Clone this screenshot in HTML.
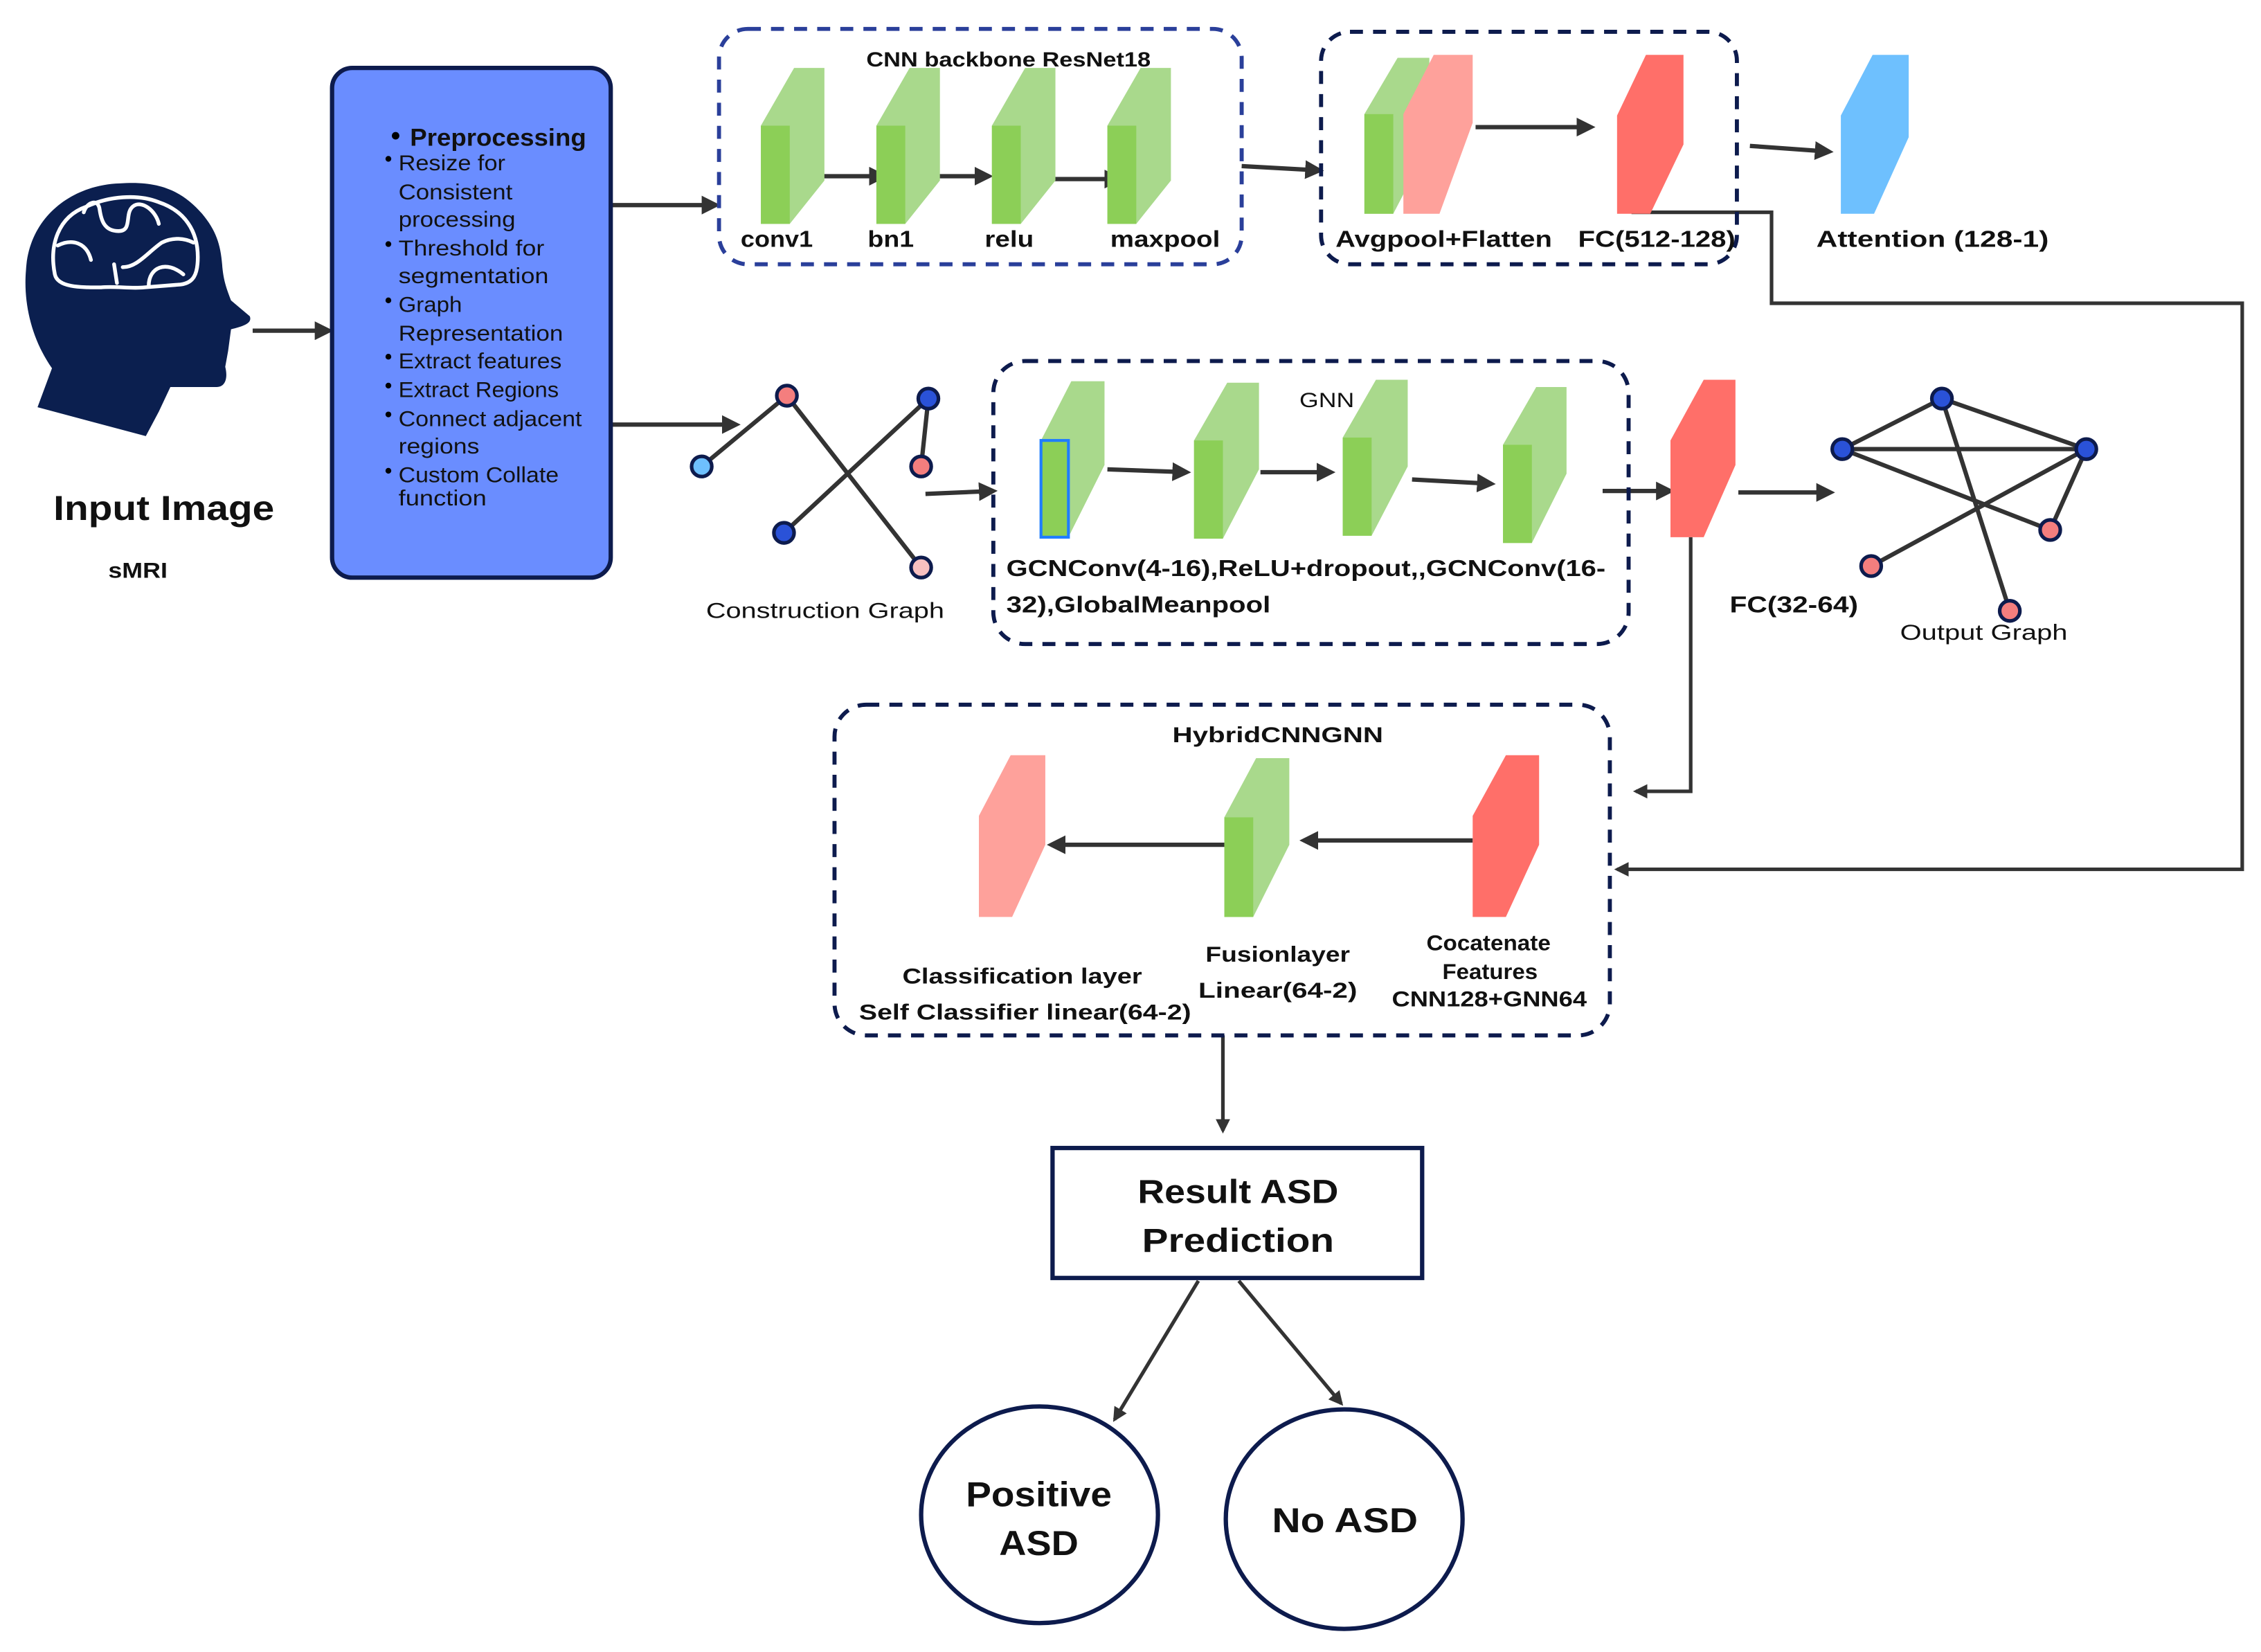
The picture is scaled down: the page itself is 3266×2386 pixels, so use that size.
<!DOCTYPE html>
<html><head><meta charset="utf-8">
<style>
html,body{margin:0;padding:0;background:#fff;width:3266px;height:2386px;overflow:hidden}
svg{display:block}
text{font-family:"Liberation Sans",sans-serif;fill:#111}
.b{font-weight:bold}
</style></head><body>
<svg width="3266" height="2386" viewBox="0 0 1566 1144" xmlns="http://www.w3.org/2000/svg">
<defs>
<marker id="ah" markerWidth="10" markerHeight="10" refX="8" refY="5" orient="auto" markerUnits="userSpaceOnUse">
<path d="M0,0 L10,5 L0,10 Z" fill="#333"/></marker>
<marker id="as" markerWidth="13" markerHeight="13" refX="10" refY="6.5" orient="auto" markerUnits="userSpaceOnUse">
<path d="M0,0 L13,6.5 L0,13 Z" fill="#333"/></marker>
</defs>
<g stroke="#333" stroke-width="3" fill="none">
<!-- arrows -->
<line x1="175" y1="229" x2="228" y2="229" marker-end="url(#as)"/>
<line x1="423" y1="142" x2="496" y2="142" marker-end="url(#as)"/>
<line x1="423" y1="294" x2="510" y2="294" marker-end="url(#as)"/>
<line x1="566" y1="122" x2="612" y2="122" marker-end="url(#as)"/>
<line x1="638" y1="122" x2="685" y2="122" marker-end="url(#as)"/>
<line x1="728" y1="124" x2="775" y2="124" marker-end="url(#as)"/>
<line x1="860" y1="115" x2="914" y2="118" marker-end="url(#as)"/>
<line x1="1022" y1="88" x2="1102" y2="88" marker-end="url(#as)"/>
<line x1="1212" y1="101" x2="1267" y2="105" marker-end="url(#as)"/>
<polyline points="1130,147 1227,147 1227,210 1553,210 1553,602 1120,602" stroke-width="2.5" marker-end="url(#ah)"/>
<line x1="641" y1="342" x2="688" y2="340" marker-end="url(#as)"/>
<line x1="767" y1="325" x2="822" y2="327" marker-end="url(#as)"/>
<line x1="873" y1="327" x2="922" y2="327" marker-end="url(#as)"/>
<line x1="978" y1="332" x2="1033" y2="335" marker-end="url(#as)"/>
<line x1="1110" y1="340" x2="1157" y2="340" marker-end="url(#as)"/>
<line x1="1204" y1="341" x2="1268" y2="341" marker-end="url(#as)"/>
<polyline points="1171,372 1171,548 1133,548" stroke-width="2.5" marker-end="url(#ah)"/>
<line x1="848" y1="585" x2="728" y2="585" marker-end="url(#as)"/>
<line x1="1020" y1="582" x2="903" y2="582" marker-end="url(#as)"/>
<line x1="847" y1="717" x2="847" y2="783" stroke-width="2.5" marker-end="url(#ah)"/>
<line x1="830" y1="887" x2="772" y2="983" stroke-width="2.5" marker-end="url(#ah)"/>
<line x1="858" y1="887" x2="929" y2="972" stroke-width="2.5" marker-end="url(#ah)"/>
<!-- construction graph edges -->
<line x1="486" y1="323" x2="545" y2="274"/>
<line x1="545" y1="274" x2="638" y2="393"/>
<line x1="543" y1="369" x2="643" y2="276"/>
<line x1="643" y1="276" x2="638" y2="323"/>
<!-- output graph edges -->
<line x1="1276" y1="311" x2="1345" y2="276"/>
<line x1="1345" y1="276" x2="1445" y2="311"/>
<line x1="1276" y1="311" x2="1445" y2="311"/>
<line x1="1276" y1="311" x2="1420" y2="367"/>
<line x1="1445" y1="311" x2="1296" y2="392"/>
<line x1="1445" y1="311" x2="1420" y2="367"/>
<line x1="1345" y1="276" x2="1392" y2="423"/>
</g>
<!-- dashed boxes -->
<g fill="none" stroke-width="2.8" stroke-dasharray="9,7">
<rect x="498" y="20" width="362" height="163" rx="20" stroke="#2a3f9a"/>
<rect x="915" y="22" width="288" height="161" rx="20" stroke="#0d1b4d"/>
<rect x="688" y="250" width="440" height="196" rx="22" stroke="#0d1b4d"/>
<rect x="578" y="488" width="537" height="229" rx="22" stroke="#0d1b4d"/>
</g>
<!-- head -->
<path d="M83,127 C110,125 126,132 140,148 C150,160 153,170 154,185 C155,195 157,200 160,208 L173,219 C175,224 168,226 160,228 L158,243 L156,254 C158,262 156,268 150,268 L118,268 L110,285 L101,302 L26,282 L36,255 C22,235 16,210 18,187 C20,150 50,128 83,127 Z" fill="#0b1f4f"/>
<g stroke="#fff" stroke-width="2.6" fill="none" stroke-linecap="round">
<path d="M38,190 C34,170 40,150 60,143 C75,136 95,134 110,140 C128,146 137,160 137,178 C137,190 134,196 125,197 L100,199 C90,200 80,198 70,199 C55,199 40,199 38,190 Z"/>
<path d="M58,147 C60,140 68,137 69,145 C70,152 72,160 82,160 C92,160 86,148 92,143 C98,138 108,146 110,155"/>
<path d="M40,170 C50,165 60,168 63,180"/>
<path d="M85,185 C95,185 102,175 112,168 C120,164 128,165 134,168"/>
<path d="M79,183 L81,196"/>
<path d="M103,198 C103,185 115,180 127,190"/>
</g>
<text class="b" x="37" y="360" font-size="24" textLength="153" lengthAdjust="spacingAndGlyphs">Input Image</text>
<text class="b" x="75" y="400" font-size="15" textLength="41" lengthAdjust="spacingAndGlyphs">sMRI</text>
<!-- preprocessing box -->
<rect x="230" y="47" width="193" height="353" rx="14" fill="#6a8dff" stroke="#0d1b4d" stroke-width="3"/>
<circle cx="274" cy="94" r="2.6" fill="#000"/>
<text class="b" x="284" y="101" font-size="17" textLength="122" lengthAdjust="spacingAndGlyphs">Preprocessing</text>
<g font-size="15">
<text x="276" y="118" textLength="74" lengthAdjust="spacingAndGlyphs">Resize for</text>
<text x="276" y="138" textLength="79" lengthAdjust="spacingAndGlyphs">Consistent</text>
<text x="276" y="157" textLength="81" lengthAdjust="spacingAndGlyphs">processing</text>
<text x="276" y="177" textLength="101" lengthAdjust="spacingAndGlyphs">Threshold for</text>
<text x="276" y="196" textLength="104" lengthAdjust="spacingAndGlyphs">segmentation</text>
<text x="276" y="216" textLength="44" lengthAdjust="spacingAndGlyphs">Graph</text>
<text x="276" y="236" textLength="114" lengthAdjust="spacingAndGlyphs">Representation</text>
<text x="276" y="255" textLength="113" lengthAdjust="spacingAndGlyphs">Extract features</text>
<text x="276" y="275" textLength="111" lengthAdjust="spacingAndGlyphs">Extract Regions</text>
<text x="276" y="295" textLength="127" lengthAdjust="spacingAndGlyphs">Connect adjacent</text>
<text x="276" y="314" textLength="56" lengthAdjust="spacingAndGlyphs">regions</text>
<text x="276" y="334" textLength="111" lengthAdjust="spacingAndGlyphs">Custom Collate</text>
<text x="276" y="350" textLength="61" lengthAdjust="spacingAndGlyphs">function</text>
</g>
<g fill="#000"><circle cx="269" cy="110" r="2"/><circle cx="269" cy="169" r="2"/><circle cx="269" cy="208" r="2"/><circle cx="269" cy="247" r="2"/><circle cx="269" cy="267" r="2"/><circle cx="269" cy="287" r="2"/><circle cx="269" cy="326" r="2"/></g>
<!-- CNN blocks -->
<g>
<polygon points="527,87 550,47 571,47 571,125 547,155 527,155" fill="#a9d98c"/><rect x="527" y="87" width="20" height="68" fill="#8ccf57"/>
<polygon points="607,87 630,47 651,47 651,125 627,155 607,155" fill="#a9d98c"/><rect x="607" y="87" width="20" height="68" fill="#8ccf57"/>
<polygon points="687,87 710,47 731,47 731,125 707,155 687,155" fill="#a9d98c"/><rect x="687" y="87" width="20" height="68" fill="#8ccf57"/>
<polygon points="767,87 790,47 811,47 811,125 787,155 767,155" fill="#a9d98c"/><rect x="767" y="87" width="20" height="68" fill="#8ccf57"/>
</g>
<text class="b" x="600" y="46" font-size="14" textLength="197" lengthAdjust="spacingAndGlyphs">CNN backbone ResNet18</text>
<g class="b" font-size="16">
<text class="b" x="513" y="171" textLength="50" lengthAdjust="spacingAndGlyphs">conv1</text>
<text class="b" x="601" y="171" textLength="32" lengthAdjust="spacingAndGlyphs">bn1</text>
<text class="b" x="682" y="171" textLength="34" lengthAdjust="spacingAndGlyphs">relu</text>
<text class="b" x="769" y="171" textLength="76" lengthAdjust="spacingAndGlyphs">maxpool</text>
</g>
<!-- box2 -->
<polygon points="945,79 968,40 990,40 990,100 965,148 945,148" fill="#a9d98c"/><rect x="945" y="79" width="20" height="69" fill="#8ccf57"/>
<polygon points="972,79 993,38 1020,38 1020,85 997,148 972,148" fill="#fea19b"/>
<polygon points="1120,80 1140,38 1166,38 1166,100 1143,148 1120,148" fill="#ff6f69"/>
<polygon points="1275,80 1297,38 1322,38 1322,95 1298,148 1275,148" fill="#6ec0fe"/>
<text class="b" x="925" y="171" font-size="16" textLength="150" lengthAdjust="spacingAndGlyphs">Avgpool+Flatten</text>
<text class="b" x="1093" y="171" font-size="16" textLength="109" lengthAdjust="spacingAndGlyphs">FC(512-128)</text>
<text class="b" x="1258" y="171" font-size="16" textLength="161" lengthAdjust="spacingAndGlyphs">Attention (128-1)</text>
<!-- construction graph nodes -->
<g stroke="#0d1b4d" stroke-width="2.5">
<ellipse cx="545" cy="274" rx="7" ry="7" fill="#f47e7e"/>
<ellipse cx="643" cy="276" rx="7" ry="7" fill="#2a52d8"/>
<ellipse cx="638" cy="323" rx="7" ry="7" fill="#f47e7e"/>
<ellipse cx="486" cy="323" rx="7" ry="7" fill="#6ec0fe"/>
<ellipse cx="543" cy="369" rx="7" ry="7" fill="#2a52d8"/>
<ellipse cx="638" cy="393" rx="7" ry="7" fill="#f8c0c0"/>
</g>
<text x="489" y="428" font-size="15" textLength="165" lengthAdjust="spacingAndGlyphs">Construction Graph</text>
<!-- GNN blocks -->
<polygon points="721,305 742,264 765,264 765,322 740,372 721,372" fill="#a9d98c"/><rect x="721" y="305" width="19" height="67" fill="#8ccf57" stroke="#1f7dff" stroke-width="2"/>
<polygon points="827,305 850,265 872,265 872,325 847,373 827,373" fill="#a9d98c"/><rect x="827" y="305" width="20" height="68" fill="#8ccf57"/>
<polygon points="930,303 953,263 975,263 975,323 950,371 930,371" fill="#a9d98c"/><rect x="930" y="303" width="20" height="68" fill="#8ccf57"/>
<polygon points="1041,308 1064,268 1085,268 1085,328 1061,376 1041,376" fill="#a9d98c"/><rect x="1041" y="308" width="20" height="68" fill="#8ccf57"/>
<text x="900" y="282" font-size="14" textLength="38" lengthAdjust="spacingAndGlyphs">GNN</text>
<text class="b" x="697" y="399" font-size="16" textLength="415" lengthAdjust="spacingAndGlyphs">GCNConv(4-16),ReLU+dropout,,GCNConv(16-</text>
<text class="b" x="697" y="424" font-size="16" textLength="183" lengthAdjust="spacingAndGlyphs">32),GlobalMeanpool</text>
<polygon points="1157,305 1180,263 1202,263 1202,322 1180,372 1157,372" fill="#ff6f69"/>
<text class="b" x="1198" y="424" font-size="16" textLength="89" lengthAdjust="spacingAndGlyphs">FC(32-64)</text>
<!-- output graph nodes -->
<g stroke="#0d1b4d" stroke-width="2.5">
<ellipse cx="1345" cy="276" rx="7" ry="7" fill="#2a52d8"/>
<ellipse cx="1276" cy="311" rx="7" ry="7" fill="#2a52d8"/>
<ellipse cx="1445" cy="311" rx="7" ry="7" fill="#2a52d8"/>
<ellipse cx="1420" cy="367" rx="7" ry="7" fill="#f47e7e"/>
<ellipse cx="1296" cy="392" rx="7" ry="7" fill="#f47e7e"/>
<ellipse cx="1392" cy="423" rx="7" ry="7" fill="#f47e7e"/>
</g>
<text x="1316" y="443" font-size="15" textLength="116" lengthAdjust="spacingAndGlyphs">Output Graph</text>
<!-- hybrid -->
<text class="b" x="812" y="514" font-size="15" textLength="146" lengthAdjust="spacingAndGlyphs">HybridCNNGNN</text>
<polygon points="678,565 700,523 724,523 724,585 701,635 678,635" fill="#fea19b"/>
<polygon points="848,566 870,525 893,525 893,585 868,635 848,635" fill="#a9d98c"/><rect x="848" y="566" width="20" height="69" fill="#8ccf57"/>
<polygon points="1020,565 1043,523 1066,523 1066,585 1043,635 1020,635" fill="#ff6f69"/>
<g font-size="15">
<text class="b" x="625" y="681" textLength="166" lengthAdjust="spacingAndGlyphs">Classification layer</text>
<text class="b" x="595" y="706" textLength="230" lengthAdjust="spacingAndGlyphs">Self Classifier linear(64-2)</text>
<text class="b" x="835" y="666" textLength="100" lengthAdjust="spacingAndGlyphs">Fusionlayer</text>
<text class="b" x="830" y="691" textLength="110" lengthAdjust="spacingAndGlyphs">Linear(64-2)</text>
<text class="b" x="988" y="658" textLength="86" lengthAdjust="spacingAndGlyphs">Cocatenate</text>
<text class="b" x="999" y="678" textLength="66" lengthAdjust="spacingAndGlyphs">Features</text>
<text class="b" x="964" y="697" textLength="135" lengthAdjust="spacingAndGlyphs">CNN128+GNN64</text>
</g>
<!-- result -->
<rect x="729" y="795" width="256" height="90" fill="#fff" stroke="#0d1b4d" stroke-width="3"/>
<text class="b" x="788" y="833" font-size="23" textLength="139" lengthAdjust="spacingAndGlyphs">Result ASD</text>
<text class="b" x="791" y="867" font-size="23" textLength="133" lengthAdjust="spacingAndGlyphs">Prediction</text>
<ellipse cx="720" cy="1049" rx="82" ry="75" fill="#fff" stroke="#0d1b4d" stroke-width="3"/>
<ellipse cx="931" cy="1052" rx="82" ry="76" fill="#fff" stroke="#0d1b4d" stroke-width="3"/>
<text class="b" x="669" y="1043" font-size="24" textLength="101" lengthAdjust="spacingAndGlyphs">Positive</text>
<text class="b" x="692" y="1077" font-size="24" textLength="55" lengthAdjust="spacingAndGlyphs">ASD</text>
<text class="b" x="881" y="1061" font-size="24" textLength="101" lengthAdjust="spacingAndGlyphs">No ASD</text>
</svg>
</body></html>
